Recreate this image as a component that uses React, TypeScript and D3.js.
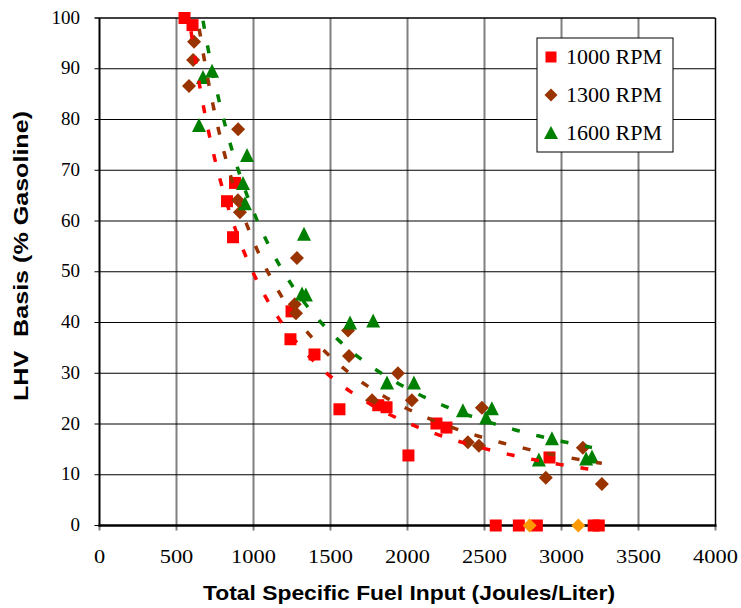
import React from "react";
import * as d3 from "d3";

// ---- Data ----
const rpm1000X = [552, 604, 828, 880, 867, 1247, 1240, 1396, 1558, 1810, 1864, 2006, 2188, 2253, 2922];
const rpm1000Y = [100, 98.6, 63.9, 67.5, 56.8, 42.2, 36.7, 33.7, 22.9, 23.7, 23.3, 13.8, 20.1, 19.3, 13.4];
const rpm1000ZeroX = [2573, 2723, 2840, 3209, 3242];

const rpm1300X = [614, 608, 581, 900, 899, 912, 1282, 1268, 1276, 1614, 1620, 1938, 1770, 2028, 2392, 2464, 2483, 2898, 3139, 3262];
const rpm1300Y = [95.3, 91.7, 86.6, 78.1, 64.1, 61.7, 52.7, 43.6, 41.8, 38.4, 33.4, 30.0, 24.7, 24.7, 16.4, 15.7, 23.2, 9.4, 15.3, 8.2];
const rpm1300ZeroX = [2793, 3109];

const rpm1600X = [731, 672, 646, 958, 932, 945, 1328, 1315, 1340, 1627, 1777, 1867, 2042, 2360, 2548, 2510, 2938, 2853, 3198, 3160];
const rpm1600Y = [89.5, 88.3, 78.8, 72.9, 67.4, 63.4, 57.4, 45.6, 45.4, 39.9, 40.3, 28.1, 28.1, 22.6, 23.0, 21.2, 17.1, 12.9, 13.5, 13.1];

const xTicks = [0, 500, 1000, 1500, 2000, 2500, 3000, 3500, 4000];
const yTicks = [0, 10, 20, 30, 40, 50, 60, 70, 80, 90, 100];
const legendLabels = ["1000 RPM", "1300 RPM", "1600 RPM"];

const W = 741;
const H = 608;
const left = 99.5;
const right = 715.5;
const top = 18;
const bottom = 525.5;

const RED = "#FF0000";
const BROWN = "#993300";
const GREEN = "#008000";
const ORANGE = "#FF9900";

const x = d3.scaleLinear().domain([0, 4000]).range([left, right]);
const y = d3.scaleLinear().domain([0, 100]).range([bottom, top]);

// Power-law least squares fit (as a spreadsheet power trendline does)
function powerFit(xs: number[], ys: number[]) {
  const lx = xs.map(Math.log);
  const ly = ys.map(Math.log);
  const mx = d3.mean(lx)!;
  const my = d3.mean(ly)!;
  let sxy = 0, sxx = 0;
  lx.forEach((v, i) => { sxy += (v - mx) * (ly[i] - my); sxx += (v - mx) * (v - mx); });
  const b = sxy / sxx;
  const a = Math.exp(my - b * mx);
  return { a, b };
}

function trendPath(xs: number[], ys: number[], extraX: number[]) {
  const { a, b } = powerFit(xs, ys);
  const [x0, x1] = d3.extent([...xs, ...extraX]) as [number, number];
  const pts = d3.range(0, 201).map((i) => {
    const xv = x0 + ((x1 - x0) * i) / 200;
    return [xv, a * Math.pow(xv, b)] as [number, number];
  });
  return d3.line<[number, number]>().x((d) => x(d[0])).y((d) => y(d[1]))(pts) || "";
}

const Square = ({ cx, cy, s = 12, fill }: any) => (
  <rect x={cx - s / 2} y={cy - s / 2} width={s} height={s} fill={fill} />
);
const Diamond = ({ cx, cy, r = 7, fill }: any) => (
  <path d={`M${cx},${cy - r}L${cx + r},${cy}L${cx},${cy + r}L${cx - r},${cy}Z`} fill={fill} />
);
const Triangle = ({ cx, cy, w = 14, h = 13, fill }: any) => (
  <path d={`M${cx},${cy - h / 2 - 1}L${cx + w / 2},${cy + h / 2}L${cx - w / 2},${cy + h / 2}Z`} fill={fill} />
);

export default function App() {
  const serif = "'Liberation Serif', 'Times New Roman', serif";
  const sans = "'Liberation Sans', Arial, sans-serif";
  return (
    <div style={{ position: "absolute", left: 0, top: 0 }}>
      <svg width={W} height={H} style={{ display: "block", background: "#fff" }}>
        <defs>
          <clipPath id="plotClip">
            <rect x={left} y={top} width={right - left} height={bottom - top} />
          </clipPath>
        </defs>
        {/* vertical grid lines (gray) incl. ticks below axis */}
        {xTicks.map((t) => (
          <line key={"vx" + t} x1={x(t)} x2={x(t)} y1={t === 0 || t === 4000 ? bottom : top} y2={bottom + 5}
            stroke="#808080" strokeWidth={2} />
        ))}
        {/* horizontal grid lines (black) */}
        {yTicks.map((t) => (
          <line key={"hy" + t} x1={left - 5} x2={right} y1={y(t)} y2={y(t)} stroke="#000" strokeWidth={t === 100 ? 1.5 : 1} />
        ))}
        {/* plot frame */}
        <line x1={right} x2={right} y1={top} y2={bottom} stroke="#000" strokeWidth={1.5} />
        <line x1={left} x2={left} y1={top} y2={bottom + 1} stroke="#000" strokeWidth={2} />
        <line x1={left - 1} x2={right + 1} y1={bottom} y2={bottom} stroke="#000" strokeWidth={2.5} />

        {/* markers */}
        <g>
          {rpm1000X.map((v, i) => <Square key={"r" + i} cx={x(v)} cy={y(rpm1000Y[i])} fill={RED} />)}
          {rpm1000ZeroX.map((v, i) => <Square key={"rz" + i} cx={x(v)} cy={y(0)} fill={RED} />)}
          {rpm1300X.map((v, i) => <Diamond key={"b" + i} cx={x(v)} cy={y(rpm1300Y[i])} fill={BROWN} />)}
          {rpm1600X.map((v, i) => <Triangle key={"g" + i} cx={x(v)} cy={y(rpm1600Y[i])} fill={GREEN} />)}
          {rpm1300ZeroX.map((v, i) => <Diamond key={"oz" + i} cx={x(v)} cy={y(0)} fill={ORANGE} />)}
        </g>

        {/* trend lines */}
        <g clipPath="url(#plotClip)" fill="none" strokeWidth={3.5} strokeDasharray="8 17">
          <path d={trendPath(rpm1000X, rpm1000Y, rpm1000ZeroX)} stroke={RED} />
          <path d={trendPath(rpm1300X, rpm1300Y, rpm1300ZeroX)} stroke={BROWN} />
          <path d={trendPath(rpm1600X, rpm1600Y, [])} stroke={GREEN} />
        </g>

        {/* y tick labels */}
        {yTicks.map((t) => (
          <text key={"yl" + t} x={80} y={y(t) + 5.5} textAnchor="end" fontFamily={serif} fontSize={19}>{t}</text>
        ))}
        {/* x tick labels */}
        {xTicks.map((t) => (
          <text key={"xl" + t} x={x(t)} y={563} textAnchor="middle" fontFamily={serif} fontSize={19}
            textLength={String(t).length * 11.2} lengthAdjust="spacingAndGlyphs">{t}</text>
        ))}

        {/* axis titles */}
        <text x={409} y={600} textAnchor="middle" fontFamily={sans} fontWeight="bold" fontSize={21}
          textLength={412} lengthAdjust="spacingAndGlyphs">Total Specific Fuel Input (Joules/Liter)</text>
        <text transform="translate(28,256) rotate(-90)" textAnchor="middle" fontFamily={sans} fontWeight="bold" fontSize={21}
          textLength={290} lengthAdjust="spacingAndGlyphs" style={{ whiteSpace: "pre" }}>{"LHV  Basis (% Gasoline)"}</text>

        {/* legend */}
        <rect x={537} y={38} width={136} height={114} fill="#fff" stroke="#000" strokeWidth={1} />
        <Square cx={551} cy={57} s={11} fill={RED} />
        <Diamond cx={551} cy={95} r={6.5} fill={BROWN} />
        <Triangle cx={551} cy={133} w={14} h={12} fill={GREEN} />
        {legendLabels.map((l, i) => (
          <text key={l} x={566} y={64 + i * 38} fontFamily={serif} fontSize={22}>{l}</text>
        ))}
      </svg>
    </div>
  );
}
